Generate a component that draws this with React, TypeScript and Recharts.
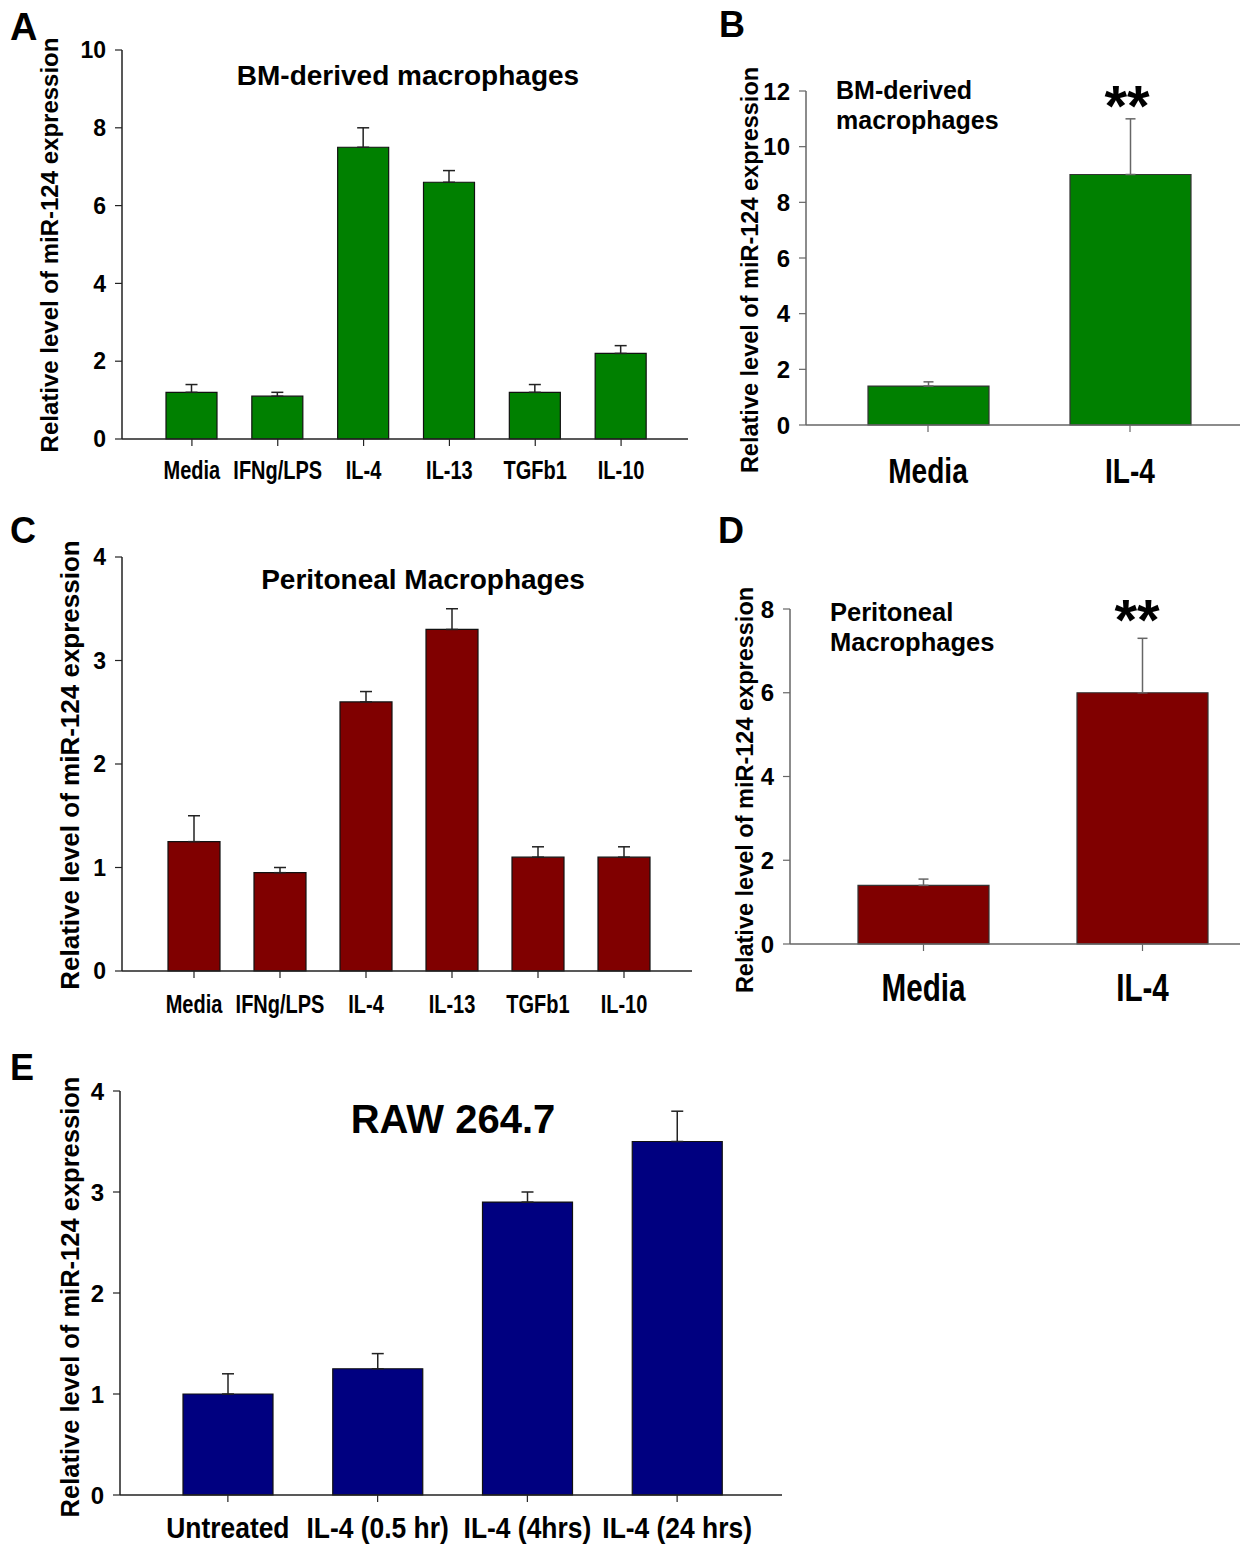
import React from 'react';
import { BarChart, Bar, XAxis, YAxis, ErrorBar } from 'recharts';

const catsA = ['Media', 'IFNg/LPS', 'IL-4', 'IL-13', 'TGFb1', 'IL-10'];
const valsA = [1.2, 1.1, 7.5, 6.6, 1.2, 2.2];
const errsA = [0.2, 0.1, 0.5, 0.3, 0.2, 0.2];
const ticksA = [0, 2, 4, 6, 8, 10];

const catsB = ['Media', 'IL-4'];
const valsB = [1.4, 9.0];
const errsB = [0.15, 2.0];
const ticksB = [0, 2, 4, 6, 8, 10, 12];

const catsC = ['Media', 'IFNg/LPS', 'IL-4', 'IL-13', 'TGFb1', 'IL-10'];
const valsC = [1.25, 0.95, 2.6, 3.3, 1.1, 1.1];
const errsC = [0.25, 0.05, 0.1, 0.2, 0.1, 0.1];
const ticksC = [0, 1, 2, 3, 4];

const catsD = ['Media', 'IL-4'];
const valsD = [1.4, 6.0];
const errsD = [0.15, 1.3];
const ticksD = [0, 2, 4, 6, 8];

const catsE = ['Untreated', 'IL-4 (0.5 hr)', 'IL-4 (4hrs)', 'IL-4 (24 hrs)'];
const valsE = [1.0, 1.25, 2.9, 3.5];
const errsE = [0.2, 0.15, 0.1, 0.3];
const ticksE = [0, 1, 2, 3, 4];

const Y_TITLE = 'Relative level of miR-124 expression';
const SANS = "'Liberation Sans', Arial, Helvetica, sans-serif";

type PanelProps = {
  cats: string[];
  vals: number[];
  errs: number[];
  ticks: number[];
  fill: string;
  box: { x: number; y: number; w: number; h: number };
  margin: { top: number; right: number; bottom: number; left: number };
  yAxisWidth: number;
  xAxisHeight: number;
  padding: { left: number; right: number };
  barSize: number;
  axisColor: string;
  barStroke: string;
  frame: boolean;
  yTickFont: number;
  xTickFont: number;
  xTickScale: number;
  xTickMargin: number;
  errWidth: number;
};

function makeCondensedTick(fontSize: number, sx: number) {
  return function CondensedTick(props: any) {
    const { x, y, payload } = props;
    return (
      <g transform={`translate(${x},${y})`}>
        <text
          transform={`scale(${sx},1)`}
          x={0}
          y={0}
          dy="0.72em"
          textAnchor="middle"
          fontFamily={SANS}
          fontWeight="bold"
          fontSize={fontSize}
          fill="#000"
        >
          {payload.value}
        </text>
      </g>
    );
  };
}

function Panel(p: PanelProps) {
  const data = p.cats.map((name, i) => ({ name, value: p.vals[i], err: [0, p.errs[i]] }));
  const Tick = makeCondensedTick(p.xTickFont, p.xTickScale);
  return (
    <div style={{ position: 'absolute', left: p.box.x, top: p.box.y, width: p.box.w, height: p.box.h }}>
      <BarChart width={p.box.w} height={p.box.h} data={data} margin={p.margin}>
        <XAxis
          dataKey="name"
          height={p.xAxisHeight}
          padding={p.padding}
          interval={0}
          tickSize={7}
          tickMargin={p.xTickMargin}
          axisLine={{ stroke: p.axisColor, strokeWidth: 1.5 }}
          tickLine={{ stroke: p.axisColor, strokeWidth: 1.2 }}
          tick={<Tick />}
        />
        <YAxis
          type="number"
          domain={[p.ticks[0], p.ticks[p.ticks.length - 1]]}
          ticks={p.ticks}
          interval={0}
          width={p.yAxisWidth}
          tickSize={7}
          tickMargin={9}
          axisLine={{ stroke: p.axisColor, strokeWidth: 1.5 }}
          tickLine={{ stroke: p.axisColor, strokeWidth: 1.2 }}
          tick={{ fill: '#000', fontSize: p.yTickFont, fontWeight: 'bold', fontFamily: SANS }}
        />
        {p.frame && (
          <XAxis
            xAxisId="top"
            orientation="top"
            dataKey="name"
            height={0}
            tick={false}
            tickLine={false}
            axisLine={{ stroke: p.axisColor, strokeWidth: 1.5 }}
          />
        )}
        {p.frame && (
          <YAxis
            yAxisId="right"
            orientation="right"
            type="number"
            domain={[0, 1]}
            width={0}
            tick={false}
            tickLine={false}
            axisLine={{ stroke: p.axisColor, strokeWidth: 1.5 }}
          />
        )}
        <Bar dataKey="value" fill={p.fill} stroke={p.barStroke} strokeWidth={1.2} barSize={p.barSize} isAnimationActive={false}>
          <ErrorBar dataKey="err" width={p.errWidth} stroke={p.axisColor} strokeWidth={1.5} direction="y" isAnimationActive={false} />
        </Bar>
      </BarChart>
    </div>
  );
}

function YTitle({ x, y, size }: { x: number; y: number; size: number }) {
  return (
    <text
      transform={`translate(${x},${y}) rotate(-90)`}
      textAnchor="middle"
      dominantBaseline="central"
      fontFamily={SANS}
      fontWeight="bold"
      fontSize={size}
      fill="#000"
    >
      {Y_TITLE}
    </text>
  );
}

function T({ x, y, size, anchor, children }: { x: number; y: number; size: number; anchor?: string; children: React.ReactNode }) {
  return (
    <text x={x} y={y} fontFamily={SANS} fontWeight="bold" fontSize={size} textAnchor={anchor || 'start'} fill="#000">
      {children}
    </text>
  );
}

export default function App() {
  return (
    <div style={{ position: 'absolute', left: 0, top: 0, width: 1242, height: 1547, background: '#fff' }}>
      <Panel
        cats={catsA} vals={valsA} errs={errsA} ticks={ticksA} fill="#008000"
        box={{ x: 0, y: 0, w: 700, h: 500 }}
        margin={{ top: 50, right: 12, bottom: 21, left: 62 }}
        yAxisWidth={60} xAxisHeight={40}
        padding={{ left: 27, right: 24 }} barSize={51}
        axisColor="#222" barStroke="#111" frame={true}
        yTickFont={23} xTickFont={25} xTickScale={0.8} xTickMargin={15} errWidth={6}
      />
      <Panel
        cats={catsB} vals={valsB} errs={errsB} ticks={ticksB} fill="#008000"
        box={{ x: 700, y: 0, w: 542, h: 500 }}
        margin={{ top: 91, right: 2, bottom: 15, left: 46 }}
        yAxisWidth={60} xAxisHeight={60}
        padding={{ left: 21, right: 9 }} barSize={121}
        axisColor="#666" barStroke="#333" frame={false}
        yTickFont={24} xTickFont={36} xTickScale={0.78} xTickMargin={25} errWidth={5}
      />
      <Panel
        cats={catsC} vals={valsC} errs={errsC} ticks={ticksC} fill="#800000"
        box={{ x: 0, y: 500, w: 700, h: 530 }}
        margin={{ top: 57, right: 8, bottom: 19, left: 62 }}
        yAxisWidth={60} xAxisHeight={40}
        padding={{ left: 29, right: 25 }} barSize={52}
        axisColor="#222" barStroke="#111" frame={true}
        yTickFont={23} xTickFont={25} xTickScale={0.8} xTickMargin={17} errWidth={6}
      />
      <Panel
        cats={catsD} vals={valsD} errs={errsD} ticks={ticksD} fill="#800000"
        box={{ x: 700, y: 520, w: 542, h: 510 }}
        margin={{ top: 89, right: 2, bottom: 26, left: 30 }}
        yAxisWidth={60} xAxisHeight={60}
        padding={{ left: 24, right: -12 }} barSize={131}
        axisColor="#666" barStroke="#333" frame={false}
        yTickFont={24} xTickFont={38} xTickScale={0.78} xTickMargin={23} errWidth={5}
      />
      <Panel
        cats={catsE} vals={valsE} errs={errsE} ticks={ticksE} fill="#000080"
        box={{ x: 0, y: 1040, w: 800, h: 507 }}
        margin={{ top: 51, right: 18, bottom: 7, left: 60 }}
        yAxisWidth={60} xAxisHeight={45}
        padding={{ left: 33, right: 30 }} barSize={90}
        axisColor="#222" barStroke="#111" frame={true}
        yTickFont={24} xTickFont={30} xTickScale={0.88} xTickMargin={14} errWidth={6}
      />
      <svg width={1242} height={1547} style={{ position: 'absolute', left: 0, top: 0, pointerEvents: 'none' }}>
        <T x={10} y={40} size={38}>A</T>
        <T x={719} y={37} size={36}>B</T>
        <T x={10} y={543} size={36}>C</T>
        <T x={718} y={543} size={36}>D</T>
        <T x={10} y={1080} size={36}>E</T>

        <T x={408} y={85} size={28} anchor="middle">BM-derived macrophages</T>
        <T x={836} y={99} size={25}>BM-derived</T>
        <T x={836} y={129} size={25}>macrophages</T>
        <T x={1127} y={126} size={58} anchor="middle">**</T>

        <T x={423} y={589} size={28} anchor="middle">Peritoneal Macrophages</T>
        <T x={830} y={621} size={25.5}>Peritoneal</T>
        <T x={830} y={651} size={25.5}>Macrophages</T>
        <T x={1137} y={640} size={58} anchor="middle">**</T>

        <T x={453} y={1133} size={40} anchor="middle">RAW 264.7</T>

        <YTitle x={49} y={245} size={24} />
        <YTitle x={750} y={270} size={23.5} />
        <YTitle x={70} y={765} size={26} />
        <YTitle x={745} y={790} size={23.5} />
        <YTitle x={70} y={1297} size={25.5} />
      </svg>
    </div>
  );
}
